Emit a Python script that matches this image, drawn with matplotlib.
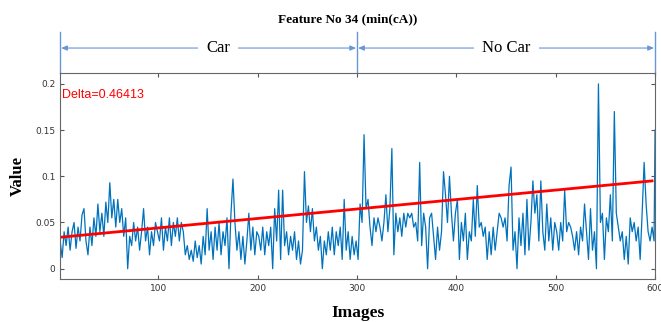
import numpy as np
import matplotlib
matplotlib.use("Agg")
import matplotlib.pyplot as plt
import matplotlib.transforms as mtransforms

# feature value (1, 3, 5, ... 599) plus the last one (600)
seg_1 = [0.03, 0.012, 0.04, 0.025, 0.045, 0.02, 0.04, 0.05, 0.022, 0.045,
         0.03, 0.058, 0.065, 0.03, 0.015, 0.045, 0.025, 0.055, 0.035, 0.07,
         0.04, 0.06, 0.035, 0.072, 0.05, 0.093, 0.055, 0.075, 0.045, 0.075,
         0.05, 0.065, 0.035, 0.055, 0.0, 0.035, 0.025, 0.05, 0.03, 0.045,
         0.02, 0.04, 0.065, 0.03, 0.045, 0.015, 0.04, 0.025, 0.05, 0.04]
seg_2 = [0.03, 0.055, 0.02, 0.045, 0.03, 0.055, 0.025, 0.05, 0.035, 0.055,
         0.03, 0.05, 0.04, 0.015, 0.025, 0.01, 0.02, 0.008, 0.03, 0.012,
         0.025, 0.005, 0.035, 0.015, 0.065, 0.02, 0.04, 0.01, 0.045, 0.02,
         0.05, 0.015, 0.04, 0.025, 0.055, 0.0, 0.06, 0.097, 0.05, 0.02,
         0.04, 0.01, 0.035, 0.005, 0.03, 0.06, 0.02, 0.045, 0.015, 0.04]
seg_3 = [0.035, 0.02, 0.045, 0.015, 0.04, 0.025, 0.045, 0.0, 0.065, 0.03,
         0.085, 0.01, 0.085, 0.025, 0.04, 0.015, 0.035, 0.02, 0.04, 0.01,
         0.03, 0.005, 0.02, 0.105, 0.05, 0.068, 0.04, 0.065, 0.03, 0.045,
         0.02, 0.035, 0.0, 0.03, 0.015, 0.04, 0.02, 0.045, 0.015, 0.04,
         0.025, 0.045, 0.01, 0.075, 0.02, 0.04, 0.01, 0.035, 0.015, 0.03]
seg_4 = [0.01, 0.07, 0.05, 0.145, 0.065, 0.075, 0.045, 0.025, 0.055, 0.04,
         0.055, 0.045, 0.03, 0.05, 0.08, 0.04, 0.065, 0.13, 0.015, 0.06,
         0.04, 0.055, 0.035, 0.06, 0.045, 0.06, 0.055, 0.06, 0.045, 0.05,
         0.03, 0.115, 0.025, 0.06, 0.045, 0.0, 0.055, 0.06, 0.035, 0.01,
         0.045, 0.02, 0.04, 0.105, 0.08, 0.05, 0.1, 0.06, 0.03, 0.06]
seg_5 = [0.075, 0.01, 0.05, 0.03, 0.06, 0.01, 0.04, 0.03, 0.075, 0.035,
         0.09, 0.045, 0.05, 0.035, 0.045, 0.01, 0.04, 0.015, 0.045, 0.02,
         0.04, 0.06, 0.055, 0.045, 0.055, 0.03, 0.09, 0.11, 0.02, 0.04,
         0.0, 0.055, 0.025, 0.06, 0.015, 0.075, 0.02, 0.05, 0.095, 0.06,
         0.08, 0.03, 0.095, 0.04, 0.02, 0.07, 0.03, 0.055, 0.02, 0.05]
seg_6 = [0.04, 0.02, 0.05, 0.03, 0.085, 0.04, 0.05, 0.045, 0.035, 0.02,
         0.04, 0.015, 0.045, 0.03, 0.07, 0.04, 0.01, 0.065, 0.02, 0.04,
         0.0, 0.2, 0.05, 0.06, 0.01, 0.055, 0.04, 0.08, 0.03, 0.17,
         0.06, 0.045, 0.03, 0.04, 0.01, 0.035, 0.005, 0.055, 0.04, 0.05,
         0.03, 0.045, 0.01, 0.06, 0.115, 0.07, 0.04, 0.03, 0.045, 0.03,
         0.15]

values = seg_1 + seg_2 + seg_3 + seg_4 + seg_5 + seg_6
images = list(range(1, 600, 2)) + [600]

# fitted trend line (endpoints)
trend_x = [1, 597]
trend_y = [0.034, 0.095]
delta_text = "Delta=0.46413"

sections = ["Car", "No Car"]
section_edges = [1, 300, 600]
label_pos = [160, 450]

xticks = [100, 200, 300, 400, 500, 600]
yticks = [0, 0.05, 0.1, 0.15, 0.2]
ytick_labels = ["0", "0.05", "0.1", "0.15", "0.2"]

fig = plt.figure(figsize=(6.61, 3.22), dpi=100)
ax = fig.add_axes([0.091, 0.134, 0.9, 0.64])

ax.plot(images, values, color="#0072BD", lw=0.9)
ax.plot(trend_x, trend_y, color="#ff0000", lw=2)

ax.set_xlim(1, 600)
ax.set_ylim(-0.011, 0.212)
ax.set_xticks(xticks)
ax.set_yticks(yticks)
ax.set_yticklabels(ytick_labels)
ax.tick_params(direction="in", top=True, right=True, length=3, width=0.8,
               labelsize=6.5, labelcolor="#333333", color="#555555")
for s in ax.spines.values():
    s.set_color("#666666")
    s.set_linewidth(0.8)

ax.text(0.003, 0.893, delta_text, transform=ax.transAxes, color="red",
        fontsize=9, family="Liberation Sans", va="center")

serif = "Liberation Serif"
ax.set_xlabel("Images", family=serif, fontsize=12.5, fontweight="bold", labelpad=9)
ax.set_ylabel("Value", family=serif, fontsize=12, fontweight="bold", labelpad=7)
ax.set_title("Feature No 34 (min(cA))", family=serif, fontsize=9.5,
             fontweight="bold", pad=36, x=0.483)

# Car / No Car brackets above the axes
trans = mtransforms.blended_transform_factory(ax.transData, ax.transAxes)
arrow_col = "#6a95d8"
arrow_y = 1.12
for xe in section_edges:
    ax.plot([xe, xe], [1.0, 1.2], color=arrow_col, lw=1, transform=trans,
            clip_on=False)
for name, x0, x1, xm in zip(sections, section_edges[:-1], section_edges[1:],
                            label_pos):
    for xend in (x0 + 1, x1 - 1):
        ax.annotate("", xy=(xend, arrow_y), xytext=(xm, arrow_y),
                    xycoords=trans, textcoords=trans,
                    arrowprops=dict(arrowstyle="-|>,head_length=0.35,head_width=0.15",
                                    color=arrow_col, lw=0.8, shrinkA=0, shrinkB=0))
    ax.text(xm, arrow_y, name, transform=trans, ha="center", va="center",
            family=serif, fontsize=12,
            bbox=dict(facecolor="white", edgecolor="none", pad=6))

fig.savefig("out.png", dpi=100)
